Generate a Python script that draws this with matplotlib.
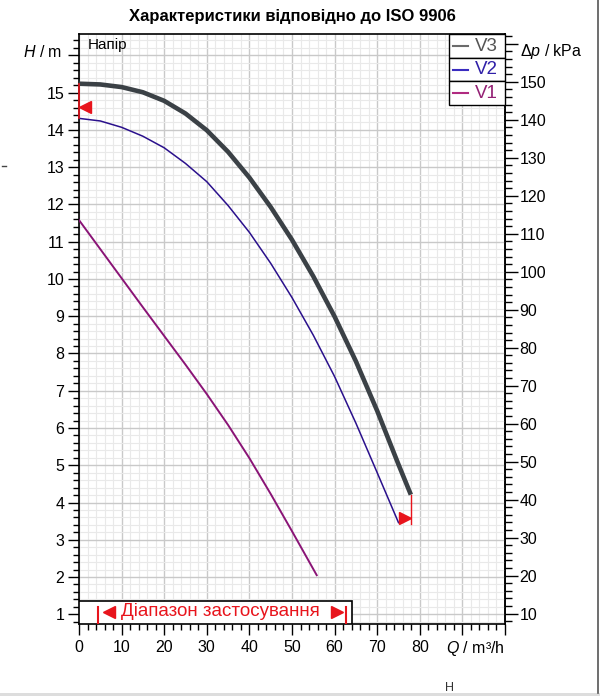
import matplotlib
matplotlib.use('Agg')
import matplotlib.pyplot as plt
import numpy as np
from matplotlib.ticker import MultipleLocator, FuncFormatter
from matplotlib.patches import Rectangle
from matplotlib.lines import Line2D
from matplotlib import transforms

plt.rcParams['font.family'] = ['Liberation Sans', 'DejaVu Sans']
plt.rcParams['mathtext.fontset'] = 'custom'
plt.rcParams['mathtext.rm'] = 'Liberation Sans'
plt.rcParams['mathtext.it'] = 'Liberation Sans:italic'

# pump curves (Q in m3/h, H in m)
q_v3 = [0, 5, 10, 15, 20, 25, 30, 35, 40, 45, 50, 55, 60, 65, 70, 75, 77.9]
h_v3 = [15.24, 15.22, 15.15, 15.01, 14.78, 14.44, 13.99, 13.41, 12.72, 11.93,
        11.05, 10.07, 8.99, 7.79, 6.46, 5.02, 4.21]
q_v2 = [0, 5, 10, 15, 20, 25, 30, 35, 40, 45, 50, 55, 60, 65, 70, 75]
h_v2 = [14.31, 14.24, 14.07, 13.83, 13.52, 13.10, 12.61, 11.97, 11.25, 10.42,
        9.50, 8.49, 7.38, 6.13, 4.80, 3.46]
q_v1 = [0, 5, 10, 15, 20, 25, 30, 35, 40, 45, 50, 55.8]
h_v1 = [11.58, 10.80, 10.02, 9.24, 8.47, 7.70, 6.91, 6.08, 5.19, 4.23, 3.23, 2.05]

labels = ['V3', 'V2', 'V1']
line_colors = ['#3b4146', '#2a108c', '#8a1476']
legend_colors = ['#6b6b6b', '#3a2cc0', '#b02a80']
text_colors = ['#555555', '#3020a8', '#932074']

# application range and limit markers
range_min, range_max = 4.4, 62.7
h_max_mark = 14.62
q_end_mark = 77.9
h_end_mark = 3.59

kpa_per_m = 9.81
red = '#e8141c'

fig = plt.figure(figsize=(6, 6.96), dpi=100)
ax = fig.add_axes([79/600, 1-623.5/696, 426/600, 589.2/696])

ax.set_xlim(0, 100)
ax.set_ylim(0.753, 16.566)

ax.xaxis.set_major_locator(MultipleLocator(10))
ax.xaxis.set_minor_locator(MultipleLocator(2))
ax.yaxis.set_major_locator(MultipleLocator(1))
ax.yaxis.set_minor_locator(MultipleLocator(0.2))
ax.xaxis.set_major_formatter(FuncFormatter(lambda v, p: '%d' % v if v <= 80 else ''))
ax.yaxis.set_major_formatter(FuncFormatter(lambda v, p: '%d' % v if v <= 15 else ''))

ax.grid(which='major', color='#c9c9c9', lw=1.0)
ax.grid(which='minor', color='#e9e9e9', lw=0.8)
ax.set_axisbelow(True)

ax.tick_params(which='major', direction='out', length=8, width=1, labelsize=11.5, color='black')
ax.tick_params(which='minor', direction='out', length=4.5, width=1, color='black')
ax.tick_params(axis='x', which='major', pad=4)
ax.tick_params(axis='y', which='major', pad=2.5)
for s in ax.spines.values():
    s.set_linewidth(1.2)

sec = ax.secondary_yaxis('right', functions=(lambda h: h*kpa_per_m, lambda p: p/kpa_per_m))
sec.yaxis.set_major_locator(MultipleLocator(10))
sec.yaxis.set_minor_locator(MultipleLocator(2))
sec.yaxis.set_major_formatter(FuncFormatter(lambda v, p: '%d' % v if 5 < v <= 150 else ''))
sec.tick_params(which='major', direction='out', length=9, width=1, labelsize=11.5, pad=1.5)
sec.tick_params(which='minor', direction='out', length=5, width=1)
sec.spines['right'].set_linewidth(1.2)

# curves
ax.plot(q_v3, h_v3, color=line_colors[0], lw=3.3, solid_capstyle='butt', solid_joinstyle='round', zorder=4)
ax.plot(q_v2, h_v2, color=line_colors[1], lw=1.1, zorder=4)
ax.plot(q_v1, h_v1, color=line_colors[2], lw=1.4, zorder=4)

# red limit marks
ax.plot([0, 0], [h_v2[0], h_v3[0]], color=red, lw=1.2, zorder=5, clip_on=False)
ax.plot([0], [h_max_mark], marker='<', ms=8.5, color=red, ls='none', zorder=6, clip_on=False,
        transform=transforms.offset_copy(ax.transData, fig, x=6, y=0, units='dots'))
ax.plot([q_end_mark, q_end_mark], [h_v2[-1] - 0.03, h_v3[-1]], color=red, lw=1.0, zorder=5)
ax.plot([q_end_mark], [h_end_mark], marker='>', ms=8.5, color=red, ls='none', zorder=6,
        transform=transforms.offset_copy(ax.transData, fig, x=-6, y=0, units='dots'))

# legend boxes
row_h = 23.5/589.2
lx0 = (449-79)/426
for i, lab in enumerate(labels):
    y0 = 1 - (i+1)*row_h
    ax.add_patch(Rectangle((lx0, y0), 1-lx0, row_h, transform=ax.transAxes,
                           facecolor='white', edgecolor='black', lw=1.0, zorder=7, clip_on=False))
    ax.add_line(Line2D([(453-79)/426, (468-79)/426], [y0+row_h/2]*2, transform=ax.transAxes,
                       color=legend_colors[i], lw=1.5, zorder=8))
    ax.text((475-79)/426, y0+row_h/2, lab, transform=ax.transAxes, ha='left', va='center',
            fontsize=13.5, color=text_colors[i], zorder=8)

ax.text((88-79)/426, (623.5-38)/589.2, 'Напір', transform=ax.transAxes,
        ha='left', va='top', fontsize=11, zorder=8)

# application range box
bt = transforms.blended_transform_factory(ax.transData, ax.transAxes)
ax.add_patch(Rectangle((0, 0), (352-79)/426, 22.4/589.2, transform=ax.transAxes,
                       facecolor='white', edgecolor='black', lw=1.2, zorder=7))
for q in (range_min, range_max):
    ax.add_line(Line2D([q, q], [0, 17/589.2], transform=bt, color=red, lw=1.5, zorder=8))
ax.plot([range_min], [11.8/589.2], marker='<', ms=8, color=red, ls='none', zorder=8, transform=
        transforms.offset_copy(bt, fig, x=11.5, y=0, units='dots'))
ax.plot([range_max], [11.8/589.2], marker='>', ms=8, color=red, ls='none', zorder=8, transform=
        transforms.offset_copy(bt, fig, x=-9.5, y=0, units='dots'))
ax.text((range_min+range_max)/2 - 0.3, 11.8/589.2, 'Діапазон застосування', transform=bt,
        ha='center', va='center', fontsize=13.5, color=red, zorder=8)

# axis labels
fig.text(62/600, 1-51.7/696, r'$H$ / m', ha='right', va='center', fontsize=11.5)
fig.text(520.5/600, 1-51.7/696, r'$\Delta p$ / kPa', ha='left', va='center', fontsize=11.5)
fig.text(505/600, 1-648.5/696, r'$Q$ / m³/h', ha='right', va='center', fontsize=11.5)

fig.text(292/600, 1-17/696, 'Характеристики відповідно до ISO 9906',
         ha='center', va='center', fontsize=12, fontweight='bold')

fig.text(450/600, 1-688/696, 'H', ha='center', va='center', fontsize=9, color='#333333')

# page border bits
fig.add_artist(Line2D([597.5/600]*2, [3/696, 1], color='#555555', lw=1.2))
fig.add_artist(Rectangle((0, 0), 1, 3/696, transform=fig.transFigure, color='#dddddd', lw=0))
fig.add_artist(Line2D([2/600, 6/600], [1-166/696]*2, color='#444444', lw=1))

fig.savefig('out.png', dpi=100)
